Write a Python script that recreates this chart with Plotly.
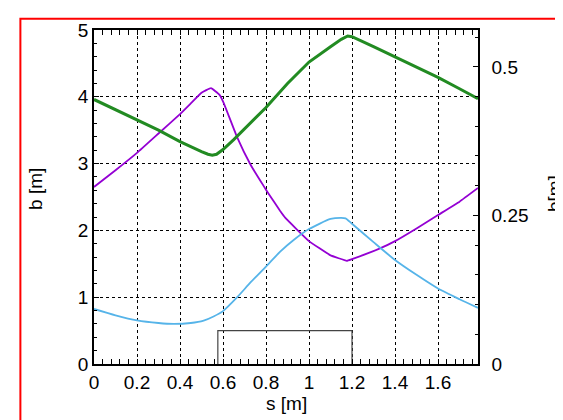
import plotly.graph_objects as go

# ---- data ----
s_green = [0, 0.1, 0.2, 0.3, 0.4, 0.45, 0.5, 0.53, 0.55, 0.57, 0.6, 0.65, 0.7, 0.8, 0.9,
           1.0, 1.1, 1.15, 1.18, 1.2, 1.3, 1.4, 1.5, 1.6, 1.7, 1.786]
b_green = [3.96, 3.81, 3.66, 3.50, 3.33, 3.25, 3.18, 3.14, 3.125, 3.14, 3.21, 3.36, 3.52, 3.84, 4.20,
           4.52, 4.75, 4.86, 4.91, 4.90, 4.75, 4.60, 4.44, 4.29, 4.12, 3.97]

s_purple = [0, 0.1, 0.2, 0.3, 0.4, 0.45, 0.5, 0.544, 0.584, 0.603, 0.665, 0.727, 0.788, 0.812,
            0.866, 0.889, 1.0, 1.098, 1.176, 1.2, 1.33, 1.4, 1.5, 1.6, 1.7, 1.786]
b_purple = [2.65, 2.90, 3.16, 3.45, 3.74, 3.90, 4.06, 4.13, 4.03, 3.91, 3.40, 2.99, 2.67, 2.55,
            2.29, 2.19, 1.84, 1.63, 1.545, 1.57, 1.73, 1.84, 2.03, 2.23, 2.43, 2.635]

s_blue = [0, 0.1, 0.2, 0.3, 0.37, 0.45, 0.51, 0.556, 0.6, 0.665, 0.73, 0.8, 0.866, 0.93,
          1.0, 1.1, 1.15, 1.17, 1.2, 1.3, 1.4, 1.5, 1.6, 1.7, 1.786]
d_blue = [0.0926, 0.082, 0.0735, 0.069, 0.0675, 0.069, 0.073, 0.080, 0.089, 0.112, 0.138, 0.164,
          0.189, 0.209, 0.227, 0.244, 0.246, 0.245, 0.236, 0.205, 0.175, 0.150, 0.127, 0.109, 0.0945]

# magnet outline
s_magnet = [0.576, 0.576, 1.2, 1.2]
b_magnet = [0, 0.5, 0.5, 0]

x_ticks = [0, 0.2, 0.4, 0.6, 0.8, 1.0, 1.2, 1.4, 1.6]
x_labels = ["0", "0.2", "0.4", "0.6", "0.8", "1", "1.2", "1.4", "1.6"]
y_ticks = [0, 1, 2, 3, 4, 5]
y_labels = ["0", "1", "2", "3", "4", "5"]
y2_ticks = [0, 0.25, 0.5]
y2_labels = ["0", "0.25", "0.5"]

FONT = "Liberation Sans, Arial, sans-serif"

fig = go.Figure()
fig.add_trace(go.Scatter(x=s_magnet, y=b_magnet, mode="lines",
                         line=dict(color="#444444", width=1.2), hoverinfo="skip"))
fig.add_trace(go.Scatter(x=s_blue, y=d_blue, mode="lines", yaxis="y2",
                         line=dict(color="#56B4E9", width=1.8, shape="spline", smoothing=0.6)))
fig.add_trace(go.Scatter(x=s_purple, y=b_purple, mode="lines",
                         line=dict(color="#9400D3", width=1.8, shape="spline", smoothing=0.3)))
fig.add_trace(go.Scatter(x=s_green, y=b_green, mode="lines",
                         line=dict(color="#228B22", width=3)))

common = dict(showline=True, linecolor="black", linewidth=1.5, ticks="inside", ticklen=5,
              tickcolor="black", zeroline=False, tickfont=dict(family=FONT, size=19, color="black"))

fig.update_layout(
    width=563, height=420,
    margin=dict(l=85.66, r=93, t=12, b=64),
    paper_bgcolor="white", plot_bgcolor="white",
    showlegend=False,
    font=dict(family=FONT, color="black"),
    xaxis=dict(range=[0, 1.786], tickmode="array", tickvals=x_ticks, ticktext=x_labels,
               mirror="allticks", showgrid=True, gridcolor="black", griddash="dot", gridwidth=1,
               minor=dict(tick0=0, dtick=0.04, ticks="inside", ticklen=3, tickcolor="black", showgrid=False),
               **common),
    yaxis=dict(range=[0, 5], tickmode="array", tickvals=y_ticks, ticktext=y_labels,
               showgrid=True, gridcolor="black", griddash="dot", gridwidth=1,
               minor=dict(tick0=0, dtick=0.2, ticks="inside", ticklen=3, tickcolor="black", showgrid=False),
               **common),
    yaxis2=dict(range=[0, 0.562], overlaying="y", side="right", tickmode="array",
                tickvals=y2_ticks, ticktext=y2_labels, showgrid=False, ticklabelstandoff=8,
                minor=dict(tick0=0, dtick=0.05, ticks="inside", ticklen=3, tickcolor="black", showgrid=False),
                **common),
    annotations=[
        dict(text="b [m]", xref="paper", yref="paper", x=-0.152, y=0.523, textangle=-90,
             showarrow=False, font=dict(family=FONT, size=19), xanchor="center", yanchor="middle"),
        dict(text="b[m]", xref="paper", yref="paper", x=1.199, y=0.51, textangle=-90,
             showarrow=False, font=dict(family=FONT, size=19), xanchor="center", yanchor="middle"),
        dict(text="s [m]", xref="paper", yref="paper", x=0.5, y=-0.119,
             showarrow=False, font=dict(family=FONT, size=19), xanchor="center", yanchor="middle"),
    ],
    shapes=[dict(type="rect", xref="paper", yref="paper", x0=-0.1917, x1=1.26, y0=-0.25, y1=1.0334,
                 line=dict(color="red", width=2), fillcolor="rgba(0,0,0,0)", layer="above")],
)

fig.write_html("out.html")
